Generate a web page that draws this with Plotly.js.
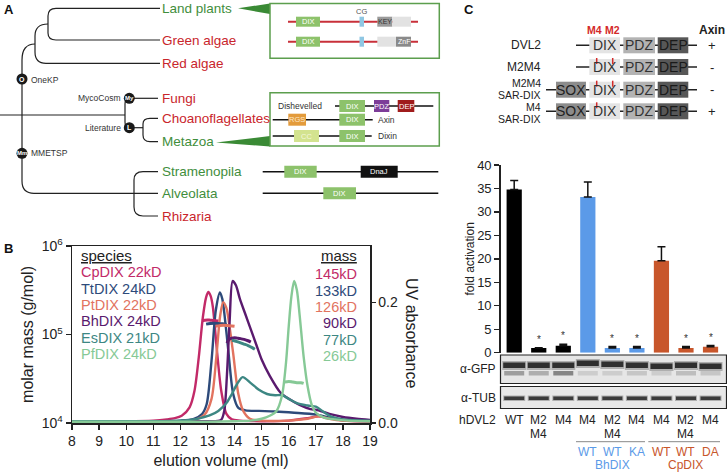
<!DOCTYPE html>
<html><head><meta charset="utf-8">
<script src="https://cdn.plot.ly/plotly-3.0.1.min.js"></script>
<style>html,body{margin:0;padding:0;background:#fff;}#chart{width:727px;height:474px;}</style>
</head><body><div id="chart"></div>
<script>
// ================= DATA =================
// Panel B: SEC-MALS traces (elution volume in ml)
const speciesLabels = ['CpDIX 22kD','TtDIX 24kD','PtDIX 22kD','BhDIX 24kD','EsDIX 21kD','PfDIX 24kD'];
const massLabels = ['145kD','133kD','126kD','90kD','77kD','26kD'];
const elutionTicks = [8,9,10,11,12,13,14,15,16,17,18,19];
const massTickVals = [1e4,1e5,1e6];
const massTickText = ['10<sup>4</sup>','10<sup>5</sup>','10<sup>6</sup>'];
const uvTickVals = [0,0.2];
const uvTickText = ['0.0','0.2'];

const cpVol = [8,9,10,11,11.5,11.8,12.05,12.34,12.52,12.68,12.83,12.95,13.03,13.12,13.2,13.35,13.51,13.7,13.9,14.2,15,16,16.7,17.1,17.5,18,19];
const cpUV  = [0.003,0.003,0.003,0.004,0.006,0.008,0.012,0.026,0.053,0.109,0.175,0.208,0.217,0.21,0.192,0.12,0.053,0.015,0.006,0.004,0.003,0.004,0.008,0.011,0.008,0.004,0.003];
const ttVol = [8,10,11,12,12.5,12.8,12.97,13.15,13.31,13.46,13.55,13.64,13.77,13.95,14.14,14.4,14.9,15.5,16.2,17.0,17.5,18,19];
const ttUV  = [0.003,0.003,0.003,0.004,0.007,0.015,0.031,0.103,0.187,0.216,0.205,0.175,0.12,0.048,0.025,0.021,0.02,0.019,0.017,0.014,0.009,0.005,0.003];
const ptVol = [8,10,12,12.6,12.9,13.15,13.33,13.47,13.58,13.7,13.83,13.95,14.14,14.32,14.57,15,16,16.7,17.1,17.5,18,19];
const ptUV  = [0.002,0.002,0.003,0.006,0.014,0.04,0.11,0.178,0.2,0.19,0.155,0.115,0.048,0.02,0.007,0.004,0.004,0.007,0.011,0.007,0.004,0.003];
const bhVol = [8,10,12,13,13.5,13.62,13.72,13.82,13.93,14.05,14.2,14.4,14.6,14.8,15.0,15.3,15.7,16.0,16.4,16.8,17.1,17.5,18,18.5,19];
const bhUV  = [0.003,0.003,0.003,0.003,0.005,0.02,0.08,0.17,0.235,0.228,0.205,0.18,0.155,0.13,0.105,0.078,0.05,0.04,0.03,0.023,0.021,0.015,0.01,0.007,0.005];
const esVol = [8,11,12,12.5,12.8,13.1,13.4,13.7,13.9,14.1,14.3,14.6,14.9,15.2,15.5,15.75,16.0,16.3,16.7,17.0,17.3,17.6,18,19];
const esUV  = [0.003,0.003,0.004,0.006,0.009,0.013,0.02,0.033,0.048,0.065,0.076,0.066,0.055,0.048,0.046,0.046,0.04,0.033,0.029,0.027,0.018,0.01,0.006,0.004];
const pfVol = [8,10,12,13,14,14.6,15.0,15.3,15.55,15.75,15.9,16.0,16.1,16.2,16.3,16.4,16.55,16.7,16.85,17.0,17.3,17.7,18.2,19];
const pfUV  = [0.002,0.002,0.002,0.002,0.003,0.004,0.007,0.012,0.02,0.045,0.1,0.16,0.21,0.235,0.22,0.18,0.11,0.06,0.03,0.017,0.009,0.006,0.004,0.003];

const cpMassVol = [12.8,12.9,13.0,13.1,13.2,13.3,13.4];
const cpMass    = [143000,145000,146000,145000,144000,143000,142000];
const ttMassVol = [12.95,13.1,13.25,13.4,13.55,13.7];
const ttMass    = [131000,133000,134000,133000,132000,130000];
const ptMassVol = [13.3,13.45,13.6,13.75,13.9,14.0];
const ptMass    = [124000,126000,127000,126000,125000,124000];
const bhMassVol = [13.72,13.8,13.9,14.0,14.1,14.2,14.35,14.5,14.6];
const bhMass    = [80000,88000,91000,92000,91000,90000,88000,85000,82000];
const esMassVol = [13.9,14.05,14.2,14.35,14.5,14.65,14.75];
const esMass    = [86000,84000,81000,78000,75000,71000,68000];
const pfMassVol = [15.85,16.0,16.15,16.3,16.45,16.55];
const pfMass    = [29000,29500,29000,28500,28500,28000];

// Panel C: fold activation
const constructs = ['WT','M2<br>M4','M4','M4','M2<br>M4','M4','M4','M2<br>M4','M4'];
const fusionDIX  = ['','','','WT','WT','KA','WT','WT','DA'];
const foldAct    = [34.8,1.0,1.5,33.2,1.0,1.0,19.6,1.0,1.25];
const foldErr    = [1.9,0.05,0.3,3.2,0.3,0.3,3.0,0.3,0.3];
const significant = [false,true,true,false,true,true,false,true,true];
const foldTicks  = [0,5,10,15,20,25,30,35,40];

// ================= STYLE / LAYOUT =================
const W = 727, H = 474;
const F = '"Liberation Sans", Arial, Helvetica, sans-serif';
const cols = ['#c22a68','#2d4a7a','#e2735f','#5a1a6e','#3d8783','#86c996'];
const GREEN = '#3f8e3c', RED = '#c9252c';
const BLUE = '#5b9ae8', ORANGE = '#c8562b';

// Panel B placement (pixels)
const B_L = 72, B_R = 370, B_T = 246, B_B = 423;
// Panel C bar placement
const C_X0 = 500.7, C_X1 = 722.8, C_R0 = -0.55, C_R1 = 8.5, C_T = 165, C_B = 352.7;
const lanePx = i => C_X0 + (i - C_R0) * (C_X1 - C_X0) / (C_R1 - C_R0);

const shapes = [], ann = [];
function rect(x0,y0,x1,y1,fill,lc,lw){shapes.push({type:'rect',xref:'x3',yref:'y4',x0,y0,x1,y1,fillcolor:fill,line:{color:lc||'rgba(0,0,0,0)',width:lw||0}});}
function ln(x0,y0,x1,y1,color,w){shapes.push({type:'line',xref:'x3',yref:'y4',x0,y0,x1,y1,line:{color,width:w}});}
function path(d,color,w,fill){shapes.push({type:'path',xref:'x3',yref:'y4',path:d,line:{color:color,width:w},fillcolor:fill||'rgba(0,0,0,0)'});}
function circ(cx,cy,r,fill){shapes.push({type:'circle',xref:'x3',yref:'y4',x0:cx-r,x1:cx+r,y0:cy-r,y1:cy+r,fillcolor:fill,line:{width:0}});}
function txt(x,y,text,size,color,opts){ann.push(Object.assign({xref:'x3',yref:'y4',x,y,text,showarrow:false,borderpad:0,font:{family:F,size,color},xanchor:'left',yanchor:'middle'},opts||{}));}

// ---------- Panel A ----------
txt(3,9,'<b>A</b>',13,'#111');
const TL = '#222';
path('M 160 8.3 L 56 8.3 Q 48 8.3 48 16 L 48 33 Q 48 40 56 40 L 160 40',TL,1.2);
path('M 48 24 Q 35 24 35 36 L 35 52 Q 35 63.3 46 63.3 L 160 63.3',TL,1.2);
path('M 35 44 Q 22 44 22 60 L 22 181 Q 22 193.3 34 193.3 L 158 193.3',TL,1.2);
ln(0,115,125,115,TL,1.2);
path('M 129 98.3 Q 125 98.3 125 104 L 125 122 Q 125 127.7 129 127.7',TL,1.2);
ln(129,98.3,158,98.3,TL,1.2);
ln(129,127.7,143,127.7,TL,1.2);
path('M 158 118.3 L 150 118.3 Q 143 118.3 143 124 L 143 135 Q 143 141.7 150 141.7 L 158 141.7',TL,1.2);
path('M 158 171.7 L 143 171.7 Q 134 171.7 134 180 L 134 207 Q 134 216 143 216 L 158 216',TL,1.2);
[[22,79,'O'],[129.3,98.3,'My'],[129.3,127.7,'L'],[22,153.3,'Mm']].forEach(c=>{circ(c[0],c[1],5.5,'#1a1a1a');txt(c[0],c[1],'<b>'+c[2]+'</b>',c[2].length>1?6:7,'#fff',{xanchor:'center'});});
txt(30,80,'OneKP',8.5,'#333');
txt(122,98.3,'MycoCosm',8.5,'#333',{xanchor:'right'});
txt(122,127.7,'Literature',8.5,'#333',{xanchor:'right'});
txt(30,153.3,'MMETSP',8.5,'#333');
[['Land plants',8.3,GREEN],['Green algae',40,RED],['Red algae',63.3,RED],['Fungi',98.3,RED],['Choanoflagellates',118.3,RED],['Metazoa',141.7,GREEN],['Stramenopila',171.7,GREEN],['Alveolata',193.3,GREEN],['Rhizaria',216,RED]].forEach(t=>txt(161,t[1],t[0],13.5,t[2]));
// wedges
path('M 238 8.3 L 270 3.5 L 270 14 Z','rgba(0,0,0,0)',0,'#3a8a35');
path('M 216 142.5 L 270 136 L 270 146.5 Z','rgba(0,0,0,0)',0,'#3a8a35');
// boxes
rect(270,3.5,439.3,58.3,'#fff','#5c9e4e',1.5);
rect(270,92.7,439.3,146,'#fff','#5c9e4e',1.5);
const DIXG = '#8dc26b';
function dbox(x0,x1,cy,h,fill,label,tc,fs){rect(x0,cy-h/2,x1,cy+h/2,fill);if(label)txt((x0+x1)/2,cy,label,fs||7.5,tc||'#fff',{xanchor:'center'});}
// box 1
txt(361.7,11,'CG',7.5,'#555',{xanchor:'center'});
[21.7,41.7].forEach((y,k)=>{
  ln(288,y,418,y,'#c8303a',2);
  dbox(296,320,y,10,DIXG,'DIX');
  dbox(359.5,364,y,10,'#8fc7e3','');
  if(k===0){dbox(377.3,392.3,y,10,'#9a9a9a','KEY','#333',7);dbox(392.3,411,y,10,'#e2e2e2','');}
  else{dbox(377.3,396,y,10,'#e2e2e2','');dbox(396,411,y,10,'#8a8a8a','ZnF','#fff',7);}
});
// box 2
txt(323,106,'Dishevelled',8.5,'#333',{xanchor:'right'});
ln(335,106,433.3,106,'#111',1.5);
dbox(339.3,365,106,12,DIXG,'DIX');
dbox(374,389.3,106,12,'#7d3c98','PDZ');
dbox(397.7,414.3,106,12,'#a01c1c','DEP');
ln(272.7,119.7,372.7,119.7,'#111',1.5);
dbox(288.3,306,119.7,12,'#e39b3c','RGS','#fde8c8');
dbox(339.3,365,119.7,12,DIXG,'DIX');
txt(377,119.7,'Axin',8.5,'#333');
ln(272.7,136,371.7,136,'#111',1.5);
dbox(294,319,136,12,'#d3e38f','CC','#f4f8dc');
dbox(339.3,365,136,12,DIXG,'DIX');
txt(377,136,'Dixin',8.5,'#333');
// outside rows
ln(262.7,171.7,438.3,171.7,'#111',1.5);
dbox(284.3,316.7,171.7,12,DIXG,'DIX');
dbox(360.7,397.7,171.7,12,'#111','DnaJ','#fff');
ln(262.7,193.3,438.3,193.3,'#111',1.5);
dbox(323.3,356,193.3,12,DIXG,'DIX');

// ---------- Panel B annotations ----------
txt(3,248,'<b>B</b>',13,'#111');
txt(80,255,'<u>species</u>',15,'#222');
speciesLabels.forEach((s,k)=>txt(80,272.3+k*16.3,s,14.5,cols[k]));
txt(358,255,'<u>mass</u>',15,'#222',{xanchor:'right'});
massLabels.forEach((s,k)=>txt(358,274.3+k*16.3,s,14.5,cols[k],{xanchor:'right'}));
txt(412,333,'UV absorbance',16,'#222',{xanchor:'center',textangle:90});

// ---------- Panel C diagram ----------
txt(463,9,'<b>C</b>',13,'#111');
txt(594.5,29.5,'<b>M4</b>',10.5,'#d42a2a',{xanchor:'center'});
txt(612.5,29.5,'<b>M2</b>',10.5,'#d42a2a',{xanchor:'center'});
txt(712,29.5,'<b>Axin</b>',12,'#222',{xanchor:'center'});
const rowsC = [
  {y:45.3,lab:['DVL2'],ly:[45.3],sox:false,mut:[],ax:'+'},
  {y:67,lab:['M2M4'],ly:[67],sox:false,mut:[596.7,612.7],ax:'-'},
  {y:89.7,lab:['M2M4','SAR-DIX'],ly:[83.3,95.3],sox:true,mut:[596.7,612.7],ax:'-'},
  {y:111.3,lab:['M4','SAR-DIX'],ly:[107,119],sox:true,mut:[596.7],ax:'+'}];
rowsC.forEach(r=>{
  ln(r.sox?546:576,r.y,697,r.y,'#222',1.5);
  if(r.sox) dbox(556,586,r.y,16,'#8c8c8c','SOX','#222',14);
  dbox(589.3,620,r.y,16,'#e4e4e4','DIX','#333',14);
  dbox(623.3,655,r.y,16,'#b3b3b3','PDZ','#333',14);
  dbox(657.7,688.3,r.y,16,'#575757','DEP','#1a1a1a',14);
  r.mut.forEach(x=>ln(x,r.y-9,x,r.y-3,'#d42a2a',1.5));
  txt(712,r.y,r.ax,13,'#222',{xanchor:'center'});
  r.lab.forEach((l,k)=>txt(541.5,r.ly[k],l,r.lab.length===1?12:10.5,'#222',{xanchor:'right'}));
});

// ---------- Panel C blots & labels ----------
rect(500.5,355,726.5,383.5,'#e6e6e6','#222',1.2);
rect(500.5,386.5,726.5,408.5,'#e8e8e8','#222',1.2);
const bandShift = [0,0,0,-2,-1,0,1,0,1];
const lower = [0.45,0.35,0.6,0.15,0.15,0.2,0.15,0.25,0.2];
foldAct.forEach((_,i)=>{
  const cx = lanePx(i), s = bandShift[i];
  rect(cx-12,361+s,cx+12,370+s,'rgba(70,70,70,0.35)');
  rect(cx-11,362.5+s,cx+11,368+s,'rgba(25,25,25,0.85)');
  rect(cx-10,371,cx+10,375.5,'rgba(70,70,70,'+lower[i]+')');
  rect(cx-11,395.5,cx+11,401,'rgba(70,70,70,0.35)');
  rect(cx-10,396.5,cx+10,400,'rgba(30,30,30,0.8)');
});
txt(497,369,'α-GFP',12,'#222',{xanchor:'right'});
txt(497,398,'α-TUB',12,'#222',{xanchor:'right'});
txt(497,420,'hDVL2',12,'#222',{xanchor:'right'});
constructs.forEach((c,i)=>{
  c.split('<br>').forEach((p,k)=>txt(lanePx(i),420+k*13.8,p,12,'#222',{xanchor:'center'}));
  if(fusionDIX[i]) txt(lanePx(i),451.7,fusionDIX[i],12,i<6?BLUE:ORANGE,{xanchor:'center'});
});
ln(576,441.7,645,441.7,'#888',1);
ln(648.3,441.7,720,441.7,'#888',1);
txt(lanePx(4),465,'BhDIX',12,BLUE,{xanchor:'center'});
txt(lanePx(7),465,'CpDIX',12,ORANGE,{xanchor:'center'});

// asterisks
foldAct.forEach((v,i)=>{ if(significant[i]) ann.push({xref:'x2',yref:'y3',x:i,y:v+foldErr[i]+0.4,text:'*',showarrow:false,borderpad:0,yanchor:'bottom',font:{family:F,size:10,color:'#333'}}); });

// ================= TRACES =================
const uvSets = [[cpVol,cpUV],[ttVol,ttUV],[ptVol,ptUV],[bhVol,bhUV],[esVol,esUV],[pfVol,pfUV]];
const massSets = [[cpMassVol,cpMass],[ttMassVol,ttMass],[ptMassVol,ptMass],[bhMassVol,bhMass],[esMassVol,esMass],[pfMassVol,pfMass]];
const traces = [];
uvSets.forEach((s,k)=>traces.push({type:'scatter',mode:'lines',x:s[0],y:s[1],xaxis:'x',yaxis:'y',line:{color:cols[k],width:2.4,shape:'spline',smoothing:0.8},name:speciesLabels[k],hoverinfo:'skip'}));
massSets.forEach((s,k)=>traces.push({type:'scatter',mode:'lines',x:s[0],y:s[1],xaxis:'x',yaxis:'y2',line:{color:cols[k],width:3,shape:'spline'},name:massLabels[k],hoverinfo:'skip'}));
traces.push({type:'bar',x:foldAct.map((_,i)=>i),y:foldAct,xaxis:'x2',yaxis:'y3',width:0.62,
  marker:{color:foldAct.map((_,i)=>i<3?'#000':(i<6?BLUE:ORANGE)),line:{width:0}},
  error_y:{type:'data',array:foldErr,arrayminus:foldErr.map(()=>0),symmetric:false,color:'#111',thickness:1.5,width:4},hoverinfo:'skip'});
traces.push({type:'scatter',x:[],y:[],xaxis:'x3',yaxis:'y4',showlegend:false,hoverinfo:'skip'});

const axLine = {showline:true,linecolor:'#222',linewidth:1.5,ticks:'outside',ticklen:5,tickwidth:1.3,tickcolor:'#222',showgrid:false,zeroline:false};
const layout = {
  width:W,height:H,margin:{l:0,r:0,t:0,b:0},showlegend:false,
  paper_bgcolor:'#fff',plot_bgcolor:'rgba(0,0,0,0)',font:{family:F,color:'#222'},
  xaxis:Object.assign({},axLine,{domain:[B_L/W,B_R/W],range:[8,19],tickvals:elutionTicks,mirror:true,anchor:'y',
    tickfont:{size:14},title:{text:'elution volume (ml)',font:{size:16},standoff:6}}),
  yaxis:Object.assign({},axLine,{domain:[1-B_B/H,1-B_T/H],range:[0,0.293],side:'right',anchor:'x',tickvals:uvTickVals,ticktext:uvTickText,ticklen:4,tickfont:{size:14}}),
  yaxis2:Object.assign({},axLine,{type:'log',range:[4,6],overlaying:'y',side:'left',anchor:'x',tickvals:massTickVals,ticktext:massTickText,
    tickfont:{size:14},title:{text:'molar mass (g/mol)',font:{size:16},standoff:4}}),
  xaxis2:{domain:[C_X0/W,C_X1/W],range:[C_R0,C_R1],anchor:'y3',visible:false,showgrid:false,zeroline:false},
  yaxis3:Object.assign({},axLine,{domain:[1-C_B/H,1-C_T/H],range:[0,40],anchor:'x2',tickvals:foldTicks,
    tickfont:{size:13},title:{text:'fold activation',font:{size:12},standoff:0}}),
  xaxis3:{domain:[0,1],range:[0,W],anchor:'y4',visible:false,fixedrange:true},
  yaxis4:{domain:[0,1],range:[H,0],anchor:'x3',visible:false,fixedrange:true},
  shapes:shapes,annotations:ann
};
Plotly.newPlot('chart',traces,layout,{staticPlot:true,displayModeBar:false});
</script></body></html>
